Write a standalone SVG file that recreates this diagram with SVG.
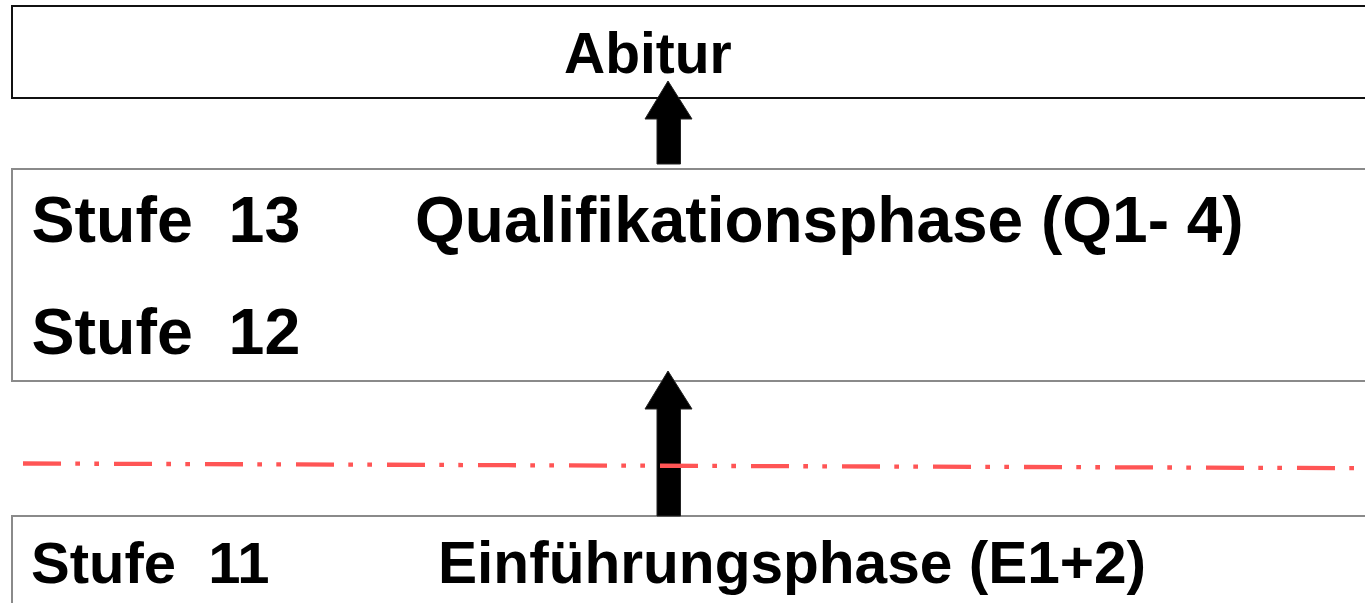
<svg xmlns="http://www.w3.org/2000/svg" width="1365" height="603" viewBox="0 0 1365 603">
  <style>
    .lbl { font-family: "Liberation Sans", Arial, sans-serif; font-weight: bold; fill: #000; white-space: pre; }
    .gbox { fill: #fff; stroke: #8a8a8a; stroke-width: 2; }
    .arrow { fill: #000; stroke: #222; stroke-width: 1; }
    .sep { fill: none; stroke: #ff5555; stroke-width: 4.3; stroke-dasharray: 38 14.3 4.7 14.3 4.7 15; }
  </style>
  <rect width="1365" height="603" fill="#fff"/>
  <g id="abitur">
    <rect x="12" y="6" width="1370" height="92" fill="#fff" stroke="#111" stroke-width="2"/>
    <text class="lbl" x="564" y="73" font-size="57">Abitur</text>
  </g>
  <g id="qualifikationsphase">
    <rect class="gbox" x="12" y="169" width="1370" height="212"/>
    <text class="lbl" x="31.5" y="242" font-size="64.5" xml:space="preserve">Stufe  13</text>
    <text class="lbl" x="415" y="242" font-size="64">Qualifikationsphase (Q1- 4)</text>
    <text class="lbl" x="31.5" y="354" font-size="64.5" xml:space="preserve">Stufe  12</text>
  </g>
  <g id="einfuehrungsphase">
    <rect class="gbox" x="12" y="516" width="1370" height="120"/>
    <text class="lbl" x="31" y="583" font-size="58" xml:space="preserve">Stufe  11</text>
    <text class="lbl" x="438" y="583" font-size="58.6">Einführungsphase (E1+2)</text>
  </g>
  <g id="connectors">
    <polygon class="arrow" points="668,81 692,119 680.5,119 680.5,164 657,164 657,119 645,119"/>
    <polygon class="arrow" points="668,371 692,409 680.5,409 680.5,516 657,516 657,409 645,409"/>
  </g>
  <g id="separator">
    <line class="sep" x1="23" y1="463.5" x2="1365" y2="468.2"/>
  </g>
</svg>
